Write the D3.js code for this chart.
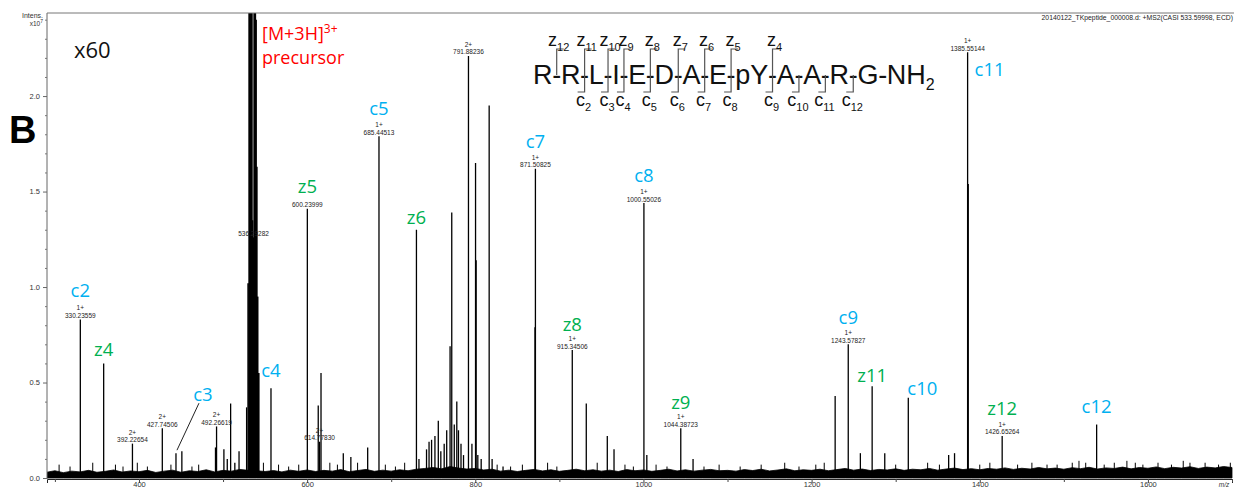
<!DOCTYPE html>
<html>
<head>
<meta charset="utf-8">
<script src="https://cdn.jsdelivr.net/npm/d3@7"></script>
<style>
  body { margin: 0; background: #fff; }
  svg { display: block; }
</style>
</head>
<body>
<svg id="chart" width="1234" height="489"></svg>
<script>
// ---- data (m/z, intensity x10^7) ----
const peaks = [
  [330.23559, 0.83], [358, 0.60], [392.22654, 0.18], [427.74506, 0.26], [444, 0.13], [451, 0.14],
  [491, 0.16], [492.26619, 0.27], [501, 0.15], [505, 0.10], [509, 0.39], [514, 0.08], [519, 0.14], [528, 0.37],
  [557, 0.47], [600.23999, 1.41], [613.2, 0.38], [614.7783, 0.19], [616.5, 0.55],
  [643, 0.13], [652, 0.11], [672, 0.16], [685.44513, 1.79],
  [730, 1.30], [733, 0.10], [742, 0.15], [745, 0.19], [748, 0.20], [752, 0.22], [756, 0.30], [759, 0.14],
  [763, 0.18], [766, 0.25], [770, 0.69], [772, 1.39], [775, 0.28], [778, 0.40], [780, 0.25], [783, 0.18],
  [786, 0.12], [791.88236, 2.21], [796, 0.18], [800.3, 1.65], [801, 1.14], [803, 0.12], [807, 0.10],
  [816.5, 1.95], [820, 0.10], [833, 0.06],
  [871.0, 0.79], [871.50825, 1.62], [915.34506, 0.67], [932, 0.39], [957, 0.22], [965, 0.15],
  [1000.55026, 1.44], [1004, 0.12], [1044.38723, 0.26], [1059, 0.10],
  [1228, 0.43], [1243.57827, 0.70], [1258, 0.13], [1272, 0.48], [1287, 0.13], [1315, 0.42],
  [1363, 0.12], [1370, 0.13], [1385.55144, 2.23], [1386.3, 1.54], [1426.65264, 0.22], [1539, 0.28]
];

// [M+3H]3+ precursor cluster (goes off scale)
const precursorPeaks = [
  [529.8, 1.02], [531.0, 9], [531.8, 9], [532.6, 9], [533.6, 9], [534.3, 9], [535.1, 1.35],
  [536.29282, 1.26], [537.0, 9], [537.7, 9], [538.4, 9], [539.3, 2.4], [540.2, 1.63], [541.2, 0.95], [542.5, 0.55]
];

const minorPeaks = [
  [305, 0.07], [318, 0.06], [345, 0.08], [372, 0.07], [381, 0.06], [398, 0.08], [410, 0.06], [438, 0.07],
  [463, 0.06], [471, 0.07], [548, 0.08], [566, 0.07], [578, 0.06], [590, 0.07], [627, 0.08], [636, 0.07],
  [660, 0.08], [693, 0.07], [705, 0.06], [716, 0.08], [826, 0.07], [842, 0.06], [856, 0.07], [886, 0.08],
  [897, 0.06], [945, 0.08], [978, 0.07], [988, 0.06], [1015, 0.07], [1028, 0.06], [1072, 0.06], [1090, 0.07],
  [1115, 0.06], [1140, 0.07], [1168, 0.08], [1185, 0.06], [1205, 0.07], [1215, 0.08], [1300, 0.07],
  [1338, 0.08], [1352, 0.07], [1400, 0.07], [1412, 0.08], [1445, 0.07], [1462, 0.08], [1480, 0.07],
  [1492, 0.07], [1510, 0.08], [1518, 0.09], [1526, 0.08], [1548, 0.07], [1560, 0.08], [1575, 0.09],
  [1585, 0.08], [1594, 0.07], [1612, 0.08], [1628, 0.07], [1642, 0.09], [1650, 0.08], [1668, 0.08],
  [1684, 0.07], [1698, 0.08]
];

// baseline noise level every 10 m/z starting at 290
const noiseStart = 290;
const noiseStep = 10;
const noiseLevel = [
  0.030, 0.038, 0.028, 0.036, 0.032, 0.040, 0.030, 0.035, 0.042, 0.031, 0.037,
  0.033, 0.040, 0.029, 0.036, 0.041, 0.030, 0.038, 0.034, 0.043, 0.032,
  0.040, 0.036, 0.045, 0.040, 0.038, 0.034, 0.039, 0.032, 0.041, 0.035,
  0.042, 0.034, 0.040, 0.036, 0.044, 0.033, 0.039, 0.045, 0.035, 0.041,
  0.036, 0.043, 0.038, 0.046, 0.050, 0.055, 0.048, 0.060, 0.052, 0.047,
  0.050, 0.042, 0.046, 0.036, 0.041, 0.034, 0.040, 0.045, 0.037, 0.043,
  0.035, 0.040, 0.046, 0.038, 0.043, 0.036, 0.041, 0.034, 0.044, 0.038,
  0.042, 0.035, 0.040, 0.046, 0.037, 0.043, 0.036, 0.041, 0.045, 0.038,
  0.040, 0.036, 0.044, 0.039, 0.046, 0.037, 0.042, 0.048, 0.038, 0.043,
  0.040, 0.046, 0.038, 0.044, 0.050, 0.041, 0.047, 0.039, 0.045, 0.042,
  0.048, 0.040, 0.046, 0.043, 0.050, 0.041, 0.047, 0.052, 0.044, 0.049,
  0.043, 0.050, 0.046, 0.053, 0.045, 0.051, 0.047, 0.055, 0.048, 0.052,
  0.046, 0.054, 0.049, 0.056, 0.047, 0.053, 0.050, 0.057, 0.048, 0.055,
  0.051, 0.058, 0.049, 0.056, 0.052, 0.059, 0.050, 0.057, 0.053, 0.060, 0.055
];

// peak annotations: m/z, charge
const massLabels = [
  [330.23559, "1+"], [392.22654, "2+"], [427.74506, "2+"], [492.26619, "2+"], [536.29282, ""],
  [600.23999, ""], [614.7783, "2+"], [685.44513, "1+"], [791.88236, "2+"], [871.50825, "1+"],
  [915.34506, "1+"], [1000.55026, "1+"], [1044.38723, "1+"], [1243.57827, "1+"],
  [1385.55144, "1+"], [1426.65264, "1+"]
];

// fragment ion assignments: name, m/z of the peak
const ionLabels = [
  ["c2", 330.23559], ["z4", 358], ["c3", 444], ["c4", 557], ["z5", 600.23999], ["c5", 685.44513],
  ["z6", 730], ["c7", 871.50825], ["z8", 915.34506], ["c8", 1000.55026], ["z9", 1044.38723],
  ["c9", 1243.57827], ["z11", 1272], ["c10", 1315], ["c11", 1385.55144], ["z12", 1426.65264], ["c12", 1539]
];

const residues = ["R", "R", "L", "I", "E", "D", "A", "E", "pY", "A", "A", "R", "G"];
const zMarks = ["12", "11", "10", "9", "8", "7", "6", "5", "4"];                  // after residue 1..9
const cMarks = [null, "2", "3", "4", "5", "6", "7", "8", "9", "10", "11", "12"];  // after residue 1..12

const xTicks = [400, 600, 800, 1000, 1200, 1400, 1600];
const xMinorTicks = [300, 500, 700, 900, 1100, 1300, 1500, 1700];
const yTicks = [0, 0.5, 1.0, 1.5, 2.0];
const yMinorTicks = [0.1, 0.2, 0.3, 0.4, 0.6, 0.7, 0.8, 0.9, 1.1, 1.2, 1.3, 1.4, 1.6, 1.7, 1.8, 1.9, 2.1, 2.2, 2.3, 2.4];

// ---- drawing ----
const svg = d3.select("#chart");
const blue = "#00b0f0", green = "#00b050";
const yMax = 2.435;

const x = d3.scaleLinear().domain([290.6, 1700]).range([47, 1232]);
const y = d3.scaleLinear().domain([0, yMax]).range([478, 13]);

svg.append("clipPath").attr("id", "plot")
  .append("rect").attr("x", 47).attr("y", 13).attr("width", 1187).attr("height", 466);

const plot = svg.append("g").attr("clip-path", "url(#plot)");

// noise floor
const noiseArea = d3.area()
  .x((d, i) => x(noiseStart + i * noiseStep))
  .y0(y(0))
  .y1(d => y(d));
plot.append("path").datum(noiseLevel)
  .attr("d", noiseArea).attr("fill", "#000").attr("stroke", "#000").attr("stroke-width", 0.8);

function drawSticks(data, w) {
  plot.append("g").selectAll("line").data(data).join("line")
    .attr("x1", d => x(d[0])).attr("x2", d => x(d[0]))
    .attr("y1", y(0)).attr("y2", d => y(Math.min(d[1], yMax + 0.1)))
    .attr("stroke", "#000").attr("stroke-width", w);
}
drawSticks(minorPeaks, 1);
drawSticks(precursorPeaks, 1.6);
drawSticks(peaks, 1.3);

const small = "Liberation Sans, Arial, sans-serif";

// axes
const xAxis = svg.append("g").attr("transform", `translate(0,${y(0) + 1})`)
  .call(d3.axisBottom(x).tickValues(xTicks).tickSize(4).tickFormat(d3.format("d")));
svg.append("g").attr("transform", `translate(0,${y(0) + 1})`)
  .call(d3.axisBottom(x).tickValues(xMinorTicks).tickSize(3).tickFormat(""))
  .call(g => g.select(".domain").remove());
xAxis.select(".domain").attr("stroke", "#222");
svg.selectAll("g.tick line").attr("stroke", "#444");
xAxis.selectAll("text").attr("font-size", 7.5).attr("fill", "#333")
  .attr("y", 7.5).attr("dy", 0)
  .attr("font-family", small);

const yAxis = svg.append("g").attr("transform", "translate(47,0)")
  .call(d3.axisLeft(y).tickValues(yTicks).tickSize(4).tickFormat(d3.format(".1f")));
svg.append("g").attr("transform", "translate(47,0)")
  .call(d3.axisLeft(y).tickValues(yMinorTicks).tickSize(2).tickFormat(""))
  .call(g => g.select(".domain").remove())
  .selectAll("line").attr("stroke", "#777");
yAxis.select(".domain").attr("stroke", "#666").attr("d", `M0,13V${y(0) + 1}`);
yAxis.selectAll(".tick line").attr("stroke", "#666");
yAxis.selectAll("text").attr("font-size", 7.5).attr("fill", "#333")
  .attr("font-family", small);

// top frame line
svg.append("line").attr("x1", 47).attr("x2", 1234).attr("y1", 13).attr("y2", 13)
  .attr("stroke", "#777").attr("stroke-width", 1);

svg.append("text").attr("x", 43).attr("y", 18).attr("text-anchor", "end")
  .attr("font-family", small).attr("font-size", 7).attr("fill", "#333").text("Intens.");
const t7 = svg.append("text").attr("x", 43).attr("y", 26).attr("text-anchor", "end")
  .attr("font-family", small).attr("font-size", 6.5).attr("fill", "#333");
t7.append("tspan").text("x10");
t7.append("tspan").attr("dy", -3).attr("font-size", 5).text("7");
svg.append("text").attr("x", 1224).attr("y", 486.5).attr("text-anchor", "middle")
  .attr("font-family", small).attr("font-size", 6.5).attr("font-style", "italic").attr("fill", "#333").text("m/z");
svg.append("text").attr("x", 1233).attr("y", 20).attr("text-anchor", "end")
  .attr("font-family", small).attr("font-size", 6.8).attr("fill", "#222")
  .text("20140122_TKpeptide_000008.d: +MS2(CASI 533.59998, ECD)");

// mass annotations
const peakAt = mz => {
  const p = peaks.concat(precursorPeaks).find(d => Math.abs(d[0] - mz) < 0.01);
  return p ? p[1] : 0;
};
const ann = svg.append("g").attr("font-family", small).attr("font-size", 6.5)
  .attr("fill", "#222").attr("text-anchor", "middle");
massLabels.forEach(([mz, z]) => {
  const top = y(peakAt(mz));
  ann.append("text").attr("x", x(mz)).attr("y", top - 1.5).text(mz.toFixed(5));
  if (z) ann.append("text").attr("x", x(mz)).attr("y", top - 9).text(z);
});

// ion labels
const labelNudge = {
  c2: { dy: -30 }, z4: { dy: -15 }, c3: { dx: 27, dy: -60, leader: true }, c4: { dy: -19 },
  z5: { dy: -23 }, c5: { dy: -29 }, z6: { dy: -13 }, c7: { dy: -28 }, z8: { dy: -27 },
  c8: { dy: -29 }, z9: { dy: -27 }, c9: { dy: -28 }, z11: { dy: -12 }, c10: { dx: 14, dy: -10 },
  c11: { dx: 7, dy: 16, anchor: "start" }, z12: { dy: -28 }, c12: { dy: -19 }
};
const ions = svg.append("g").attr("font-family", "Open Sans, Noto Sans, sans-serif").attr("font-size", 18.5);
ionLabels.forEach(([name, mz]) => {
  const n = labelNudge[name] || {};
  const px = x(mz) + (n.dx || 0);
  const py = y(peakAt(mz)) + (n.dy || 0);
  ions.append("text").attr("x", px).attr("y", py)
    .attr("dominant-baseline", "central")
    .attr("text-anchor", n.anchor || "middle")
    .attr("fill", name[0] === "c" ? blue : green)
    .text(name);
  if (n.leader) {
    svg.append("line").attr("x1", px - 4).attr("y1", py + 10)
      .attr("x2", x(mz) + 1).attr("y2", y(peakAt(mz)) - 3)
      .attr("stroke", "#222").attr("stroke-width", 1);
  }
});

// big annotations
svg.append("text").attr("x", 74).attr("y", 58).attr("font-family", "Open Sans, sans-serif")
  .attr("font-size", 22).attr("fill", "#111").text("x60");
svg.append("text").attr("x", 9).attr("y", 143).attr("font-family", small)
  .attr("font-weight", "bold").attr("font-size", 38).attr("fill", "#000").text("B");
const prec = svg.append("text").attr("x", 262).attr("y", 40).attr("font-family", "Open Sans, sans-serif")
  .attr("font-size", 18).attr("fill", "#ff0000");
prec.append("tspan").text("[M+3H]");
prec.append("tspan").attr("dy", -7).attr("font-size", 12).text("3+");
svg.append("text").attr("x", 262).attr("y", 64).attr("font-family", "Open Sans, sans-serif")
  .attr("font-size", 18).attr("fill", "#ff0000").text("precursor");

// peptide sequence with cleavage sites
const seq = svg.append("g").attr("font-family", small).attr("fill", "#111");
const seqSize = 27, seqBase = 84, hyY = seqBase - 9;
let cx = 533;
const sites = [];
residues.forEach((r, i) => {
  const t = seq.append("text").attr("x", cx).attr("y", seqBase).attr("font-size", seqSize).text(r);
  cx += t.node().getComputedTextLength();
  const h = seq.append("text").attr("x", cx - 0.3).attr("y", seqBase).attr("font-size", seqSize).text("-");
  const w = h.node().getComputedTextLength() - 0.6;
  sites.push(cx + w / 2);
  cx += w;
});
const nh = seq.append("text").attr("x", cx).attr("y", seqBase).attr("font-size", seqSize);
nh.append("tspan").text("NH");
nh.append("tspan").attr("dy", 6).attr("font-size", 16).text("2");

const marks = svg.append("g").attr("stroke", "#555").attr("stroke-width", 1.2).attr("fill", "none");
const subLabel = (px, py, letter, sub) => {
  const t = svg.append("text").attr("x", px).attr("y", py).attr("text-anchor", "middle")
    .attr("font-family", small).attr("font-size", 18).attr("fill", "#111");
  t.append("tspan").text(letter);
  t.append("tspan").attr("dy", 5).attr("font-size", 11).text(sub);
};
zMarks.forEach((s, i) => {
  const hx = sites[i];
  marks.append("path").attr("d", `M${hx},${hyY}V49H${hx + 7}`);
  subLabel(hx + 2, 46, "z", s);
});
cMarks.forEach((s, i) => {
  if (!s) return;
  const hx = sites[i];
  marks.append("path").attr("d", `M${hx},${hyY}V92H${hx - 7}`);
  subLabel(hx - 1, 106, "c", s);
});
</script>
</body>
</html>
